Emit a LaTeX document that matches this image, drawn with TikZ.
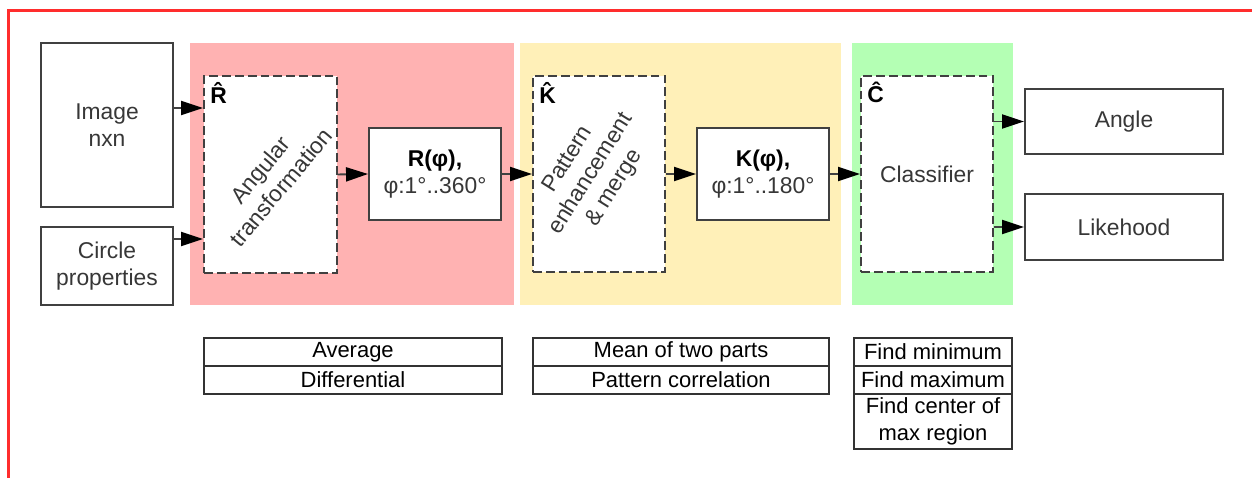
\documentclass[tikz,border=0pt]{standalone}
\usepackage{fontspec}
\setmainfont{Liberation Sans}
\usetikzlibrary{arrows.meta}

\definecolor{zonered}{RGB}{255,178,178}
\definecolor{zoneyellow}{RGB}{255,240,184}
\definecolor{zonegreen}{RGB}{180,255,180}
\definecolor{framered}{RGB}{255,45,45}
\definecolor{linegray}{RGB}{64,64,64}
\definecolor{textgray}{RGB}{55,55,55}

\tikzset{
  box/.style={draw=linegray, line width=1.1pt, fill=white, align=center, text=textgray,
    font=\fontsize{13}{15.5}\selectfont, inner sep=2pt},
  dashbox/.style={box, dash pattern=on 5pt off 2.3pt},
  turned/.style={align=center, text=textgray, font=\fontsize{13}{15.5}\selectfont},
  hatlbl/.style={anchor=north west, inner sep=4pt, text=black, font=\fontsize{13}{15}\selectfont\bfseries},
  flow/.style={draw=linegray, line width=1.1pt, -{Triangle[length=4.4mm,width=2.8mm,color=black]}},
  cell/.style={draw=black!80, line width=0.8pt, align=center, inner sep=0pt,
    font=\fontsize{12.5}{15.5}\selectfont},
}

\begin{document}
\begin{tikzpicture}

    \useasboundingbox (0,0) rectangle (25.04,-9.56);

    % red frame round the figure
    \draw[framered, line width=1.6pt] (0.17,-9.7) -- (0.17,-0.21) -- (25.2,-0.21);

    % coloured stages
    \fill[zonered] (3.80,-0.86) rectangle (10.28,-6.10);
    \fill[zoneyellow] (10.40,-0.86) rectangle (16.82,-6.10);
    \fill[zonegreen] (17.04,-0.86) rectangle (20.26,-6.10);

    % inputs
    \node[box, minimum width=2.64cm, minimum height=3.28cm] (img) at (2.14,-2.50) {Image\\nxn};
    \node[box, minimum width=2.64cm, minimum height=1.56cm] (circ) at (2.14,-5.32) {Circle\\properties};

    % stage R
    \node[dashbox, minimum width=2.66cm, minimum height=3.94cm] (rdash) at (5.41,-3.49) {};
    \node[hatlbl] (rhat) at (rdash.north west) {\^{R}};
    \node[turned, rotate=50] (rtxt) at ([yshift=-0.08cm]rdash.center) {Angular\\transformation};
    \node[box, minimum width=2.64cm, minimum height=1.84cm] (rbox) at (8.70,-3.48)
        {{\color{black}\textbf{R(φ),}}\\φ:1°..360°};

    % stage K
    \node[dashbox, minimum width=2.64cm, minimum height=3.92cm] (kdash) at (11.98,-3.48) {};
    \node[hatlbl] (khat) at (kdash.north west) {\^{K}};
    \node[turned, rotate=58] (ktxt) at ([xshift=-0.15cm]kdash.center) {Pattern\\enhancement\\\& merge};
    \node[box, minimum width=2.64cm, minimum height=1.84cm] (kbox) at (15.26,-3.48)
        {{\color{black}\textbf{K(φ),}}\\φ:1°..180°};

    % stage C
    \node[dashbox, minimum width=2.64cm, minimum height=3.92cm] (cdash) at (18.54,-3.48) {};
    \node[hatlbl] (chat) at (cdash.north west) {\^{C}};
    \node[turned] (ctxt) at (cdash.center) {Classifier};

    % outputs
    \node[box, minimum width=3.96cm, minimum height=1.30cm] (angle) at (22.48,-2.43) {Angle};
    \node[box, minimum width=3.96cm, minimum height=1.32cm] (likely) at (22.48,-4.54) {Likehood};

    % arrows
    \coordinate (rin1) at ([yshift=1.33cm]rdash.west);
    \coordinate (rin2) at ([yshift=-1.29cm]rdash.west);
    \draw[flow] (img.east |- rin1) -- (rin1);
    \draw[flow] (circ.east |- rin2) -- (rin2);
    \draw[flow] (rdash.east) -- (rbox.west);
    \draw[flow] (rbox.east) -- (kdash.west);
    \draw[flow] (kdash.east) -- (kbox.west);
    \draw[flow] (kbox.east) -- (cdash.west);
    \draw[flow] (cdash.east |- angle.west) -- (angle.west);
    \draw[flow] (cdash.east |- likely.west) -- (likely.west);

    % methods under each stage
    \node[cell, minimum width=5.96cm, minimum height=0.56cm] (avg) at (7.06,-7.04) {Average};
    \node[cell, minimum width=5.96cm, minimum height=0.56cm] (diff) at (7.06,-7.60) {Differential};

    \node[cell, minimum width=5.92cm, minimum height=0.56cm] (mean) at (13.62,-7.04) {Mean of two parts};
    \node[cell, minimum width=5.92cm, minimum height=0.56cm] (corr) at (13.62,-7.60) {Pattern correlation};

    \node[cell, minimum width=3.16cm, minimum height=0.56cm] (fmin) at (18.66,-7.04) {Find minimum};
    \node[cell, minimum width=3.16cm, minimum height=0.56cm] (fmax) at (18.66,-7.60) {Find maximum};
    \node[cell, minimum width=3.16cm, minimum height=1.10cm] (fctr) at (18.66,-8.43) {Find center of\\max region};

\end{tikzpicture}
\end{document}
